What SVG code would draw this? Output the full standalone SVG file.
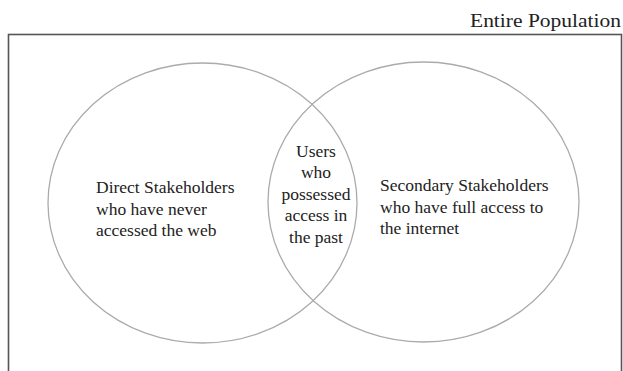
<svg xmlns="http://www.w3.org/2000/svg" width="623" height="371" viewBox="0 0 623 371">
<style>
.set{fill:none;stroke:#ababab;stroke-width:1.3}
.lbl{font-family:"Liberation Serif","Times New Roman",serif;font-size:17.5px;fill:#222}
.title{font-family:"Liberation Serif","Times New Roman",serif;font-size:19px;fill:#222}
</style>
<rect x="0" y="0" width="623" height="371" fill="#fff"/>
<g id="population">
<rect x="8.5" y="34.5" width="613" height="350" fill="none" stroke="#555" stroke-width="1.6"/>
<text class="title" x="621" y="27" text-anchor="end" textLength="151" lengthAdjust="spacingAndGlyphs">Entire Population</text>
</g>
<g id="direct">
<ellipse class="set" cx="202.5" cy="203" rx="154.5" ry="140"/>
<text class="lbl" x="96" y="193">Direct Stakeholders</text>
<text class="lbl" x="96" y="215">who have never</text>
<text class="lbl" x="96" y="236">accessed the web</text>
</g>
<g id="secondary">
<ellipse class="set" cx="423.5" cy="202" rx="155.5" ry="140"/>
<text class="lbl" x="380" y="191">Secondary Stakeholders</text>
<text class="lbl" x="380" y="213">who have full access to</text>
<text class="lbl" x="380" y="234">the internet</text>
</g>
<g id="past-users">
<text class="lbl" x="316" y="157" text-anchor="middle">Users</text>
<text class="lbl" x="316" y="178" text-anchor="middle">who</text>
<text class="lbl" x="316" y="200" text-anchor="middle">possessed</text>
<text class="lbl" x="316" y="221" text-anchor="middle">access in</text>
<text class="lbl" x="316" y="243" text-anchor="middle">the past</text>
</g>
<g id="connectors"/>
</svg>
